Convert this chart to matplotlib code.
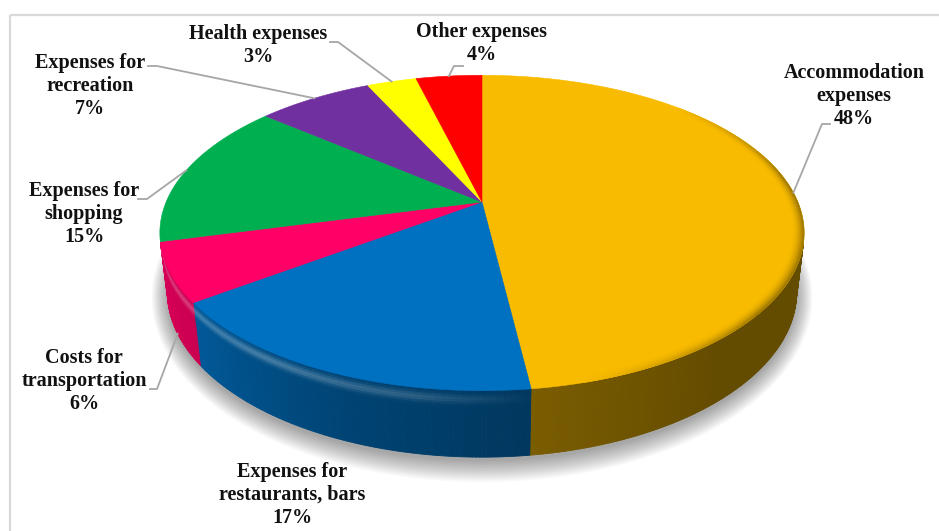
import numpy as np
import matplotlib
matplotlib.use("Agg")
import matplotlib.pyplot as plt
from matplotlib.collections import PolyCollection
from matplotlib.patches import Polygon, Rectangle

# expense structure, clockwise from 12 o'clock
names = ["Accommodation\nexpenses", "Expenses for\nrestaurants, bars",
         "Costs for\ntransportation", "Expenses for\nshopping",
         "Expenses for\nrecreation", "Health expenses", "Other expenses"]
shares = [48, 17, 6, 15, 7, 3, 4]
colors = ["#F8BB00", "#0070C0", "#FF0066", "#00B050",
          "#7030A0", "#FFFF00", "#FF0000"]

# label block centres and leader elbows (pixels)
label_pos = [(854, 96), (292, 495), (84, 381), (84, 214),
             (90, 86), (258, 46), (482, 44)]
leader_elbow = [[(830, 124), (822, 124)], None, [(150, 389), (157, 389)],
                [(138, 199), (147, 199)], [(148, 66), (157, 66)],
                [(330, 42), (338, 42)], [(463, 66), (454, 66)]]

# simple perspective camera for the 3-D disc
cx, cy = 482, 202
f, dist = 1412.0, 4.47
elev = np.arcsin(0.48)
se, ce = np.sin(elev), np.cos(elev)
thick = 0.214


def proj(phi, z=0.0, r=1.0):
    X = r * np.sin(phi)
    Y = r * np.cos(phi)
    v = Y * se + z * ce
    w = dist + Y * ce - z * se
    return cx + f * X / w, cy - f * v / w


def rgb(c):
    c = c.lstrip("#")
    return np.array([int(c[i:i + 2], 16) for i in (0, 2, 4)]) / 255.0


def side_shade(phi):
    d = np.degrees(phi)
    return np.interp(d, [90, 140, 165, 180, 200, 235, 270],
                     [0.40, 0.40, 0.47, 0.52, 0.60, 0.80, 0.88])


def band(t, z0, z1, r0=1.0, r1=1.0):
    ox, oy = proj(t, z0, r0)
    ix, iy = proj(t[::-1], z1, r1)
    return np.c_[np.r_[ox, ix], np.r_[oy, iy]]


fig = plt.figure(figsize=(9.39, 5.31), dpi=100)
ax = fig.add_axes([0, 0, 1, 1])
ax.set_xlim(0, 939)
ax.set_ylim(531, 0)
ax.axis("off")

ax.add_patch(Rectangle((10, 15), 945, 530, fill=False,
                       edgecolor="#D9D9D9", lw=1.6))

bounds = np.radians(np.concatenate([[0], np.cumsum(shares)]) * 3.6)
vis_lo = np.arccos(-1.0 / (dist * ce))
vis_hi = 2 * np.pi - vis_lo

# soft shadow under the disc
ring = np.linspace(0, 2 * np.pi, 400)
bx, by = proj(ring, -thick)
mx, my = bx.mean(), by.mean()
for k in range(16):
    sx = mx + (bx - mx) * (1 + k / 300.0)
    sy = my + 4 + (by - my) * (1 + k / 130.0)
    ax.add_patch(Polygon(np.c_[sx, sy], closed=True, facecolor="#000000",
                         edgecolor="none", alpha=0.022, zorder=1))

# side wall, vertical strips shaded by orientation
quads, qcols = [], []
for i, col in enumerate(colors):
    a0, a1 = max(bounds[i], vis_lo), min(bounds[i + 1], vis_hi)
    if a1 <= a0:
        continue
    t = np.linspace(a0, a1, max(int(np.degrees(a1 - a0) * 2), 2))
    tx, ty = proj(t, 0.0)
    ux, uy = proj(t, -thick)
    base = rgb(col)
    for j in range(len(t) - 1):
        quads.append([(tx[j], ty[j]), (tx[j + 1], ty[j + 1]),
                      (ux[j + 1], uy[j + 1]), (ux[j], uy[j])])
        qcols.append(np.clip(base * side_shade(0.5 * (t[j] + t[j + 1])), 0, 1))
ax.add_collection(PolyCollection(quads, facecolors=qcols, edgecolors=qcols,
                                 linewidths=0.6, zorder=2))

# rounded top edge: soft light streak on the front-left side wall
zs = np.linspace(0.0, -0.06, 9)
for i, col in enumerate(colors):
    a0, a1 = max(bounds[i], np.radians(172)), min(bounds[i + 1], vis_hi)
    if a1 <= a0:
        continue
    base = rgb(col)
    n = max(int(np.degrees(a1 - a0)), 2)
    t = np.linspace(a0, a1, n + 1)
    for j in range(n):
        tt = t[j:j + 2]
        amp = np.interp(np.degrees(tt.mean()), [172, 190, 215, 256],
                        [0.0, 0.18, 0.28, 0.22])
        for q in range(len(zs) - 1):
            zm = 0.5 * (zs[q] + zs[q + 1])
            k = amp * np.exp(-((zm + 0.028) / 0.014) ** 2)
            c2 = base * side_shade(tt.mean()) * (1 - k) + k
            ax.add_patch(Polygon(band(tt, zs[q], zs[q + 1]), closed=True,
                                 facecolor=c2, edgecolor=c2, lw=0.3,
                                 zorder=3))

# top face
for i, col in enumerate(colors):
    t = np.linspace(bounds[i], bounds[i + 1], 120)
    px, py = proj(t)
    ax.add_patch(Polygon(np.c_[np.r_[cx, px], np.r_[cy, py]], closed=True,
                         facecolor=col, edgecolor=col, lw=0.4, zorder=4))

# gradual darkening towards the right rim of the top face
rs = np.linspace(0.965, 1.0, 8)
for i, col in enumerate(colors):
    a0, a1 = max(bounds[i], np.radians(45)), min(bounds[i + 1], np.radians(165))
    if a1 <= a0:
        continue
    base = rgb(col)
    n = max(int(np.degrees(a1 - a0)), 2)
    t = np.linspace(a0, a1, n + 1)
    for j in range(n):
        tt = t[j:j + 2]
        amp = np.interp(np.degrees(tt.mean()), [45, 80, 130, 165],
                        [0.0, 0.35, 0.35, 0.0])
        for q in range(len(rs) - 1):
            k = amp * ((q + 1) / (len(rs) - 1)) ** 2
            c2 = base * (1 - k)
            ax.add_patch(Polygon(band(tt, 0.0, 0.0, rs[q + 1], rs[q]),
                                 closed=True, facecolor=c2, edgecolor=c2,
                                 lw=0.3, zorder=5))

# labels and leader lines
font = dict(family="Liberation Serif", weight="bold", size=14.5,
            color="#111111")
for i, name in enumerate(names):
    lx, ly = label_pos[i]
    ax.text(lx, ly, f"{name}\n{shares[i]}%", ha="center", va="center",
            linespacing=1.2, zorder=7, **font)
    if leader_elbow[i] is None:
        continue
    mid = 0.5 * (bounds[i] + bounds[i + 1])
    z = -thick if vis_lo < mid < vis_hi else 0.0
    ex, ey = proj(mid, z)
    pts = leader_elbow[i] + [(ex, ey)]
    ax.plot([p[0] for p in pts], [p[1] for p in pts], color="#A6A6A6",
            lw=1.3, zorder=6)

fig.savefig("out.png", dpi=100)
